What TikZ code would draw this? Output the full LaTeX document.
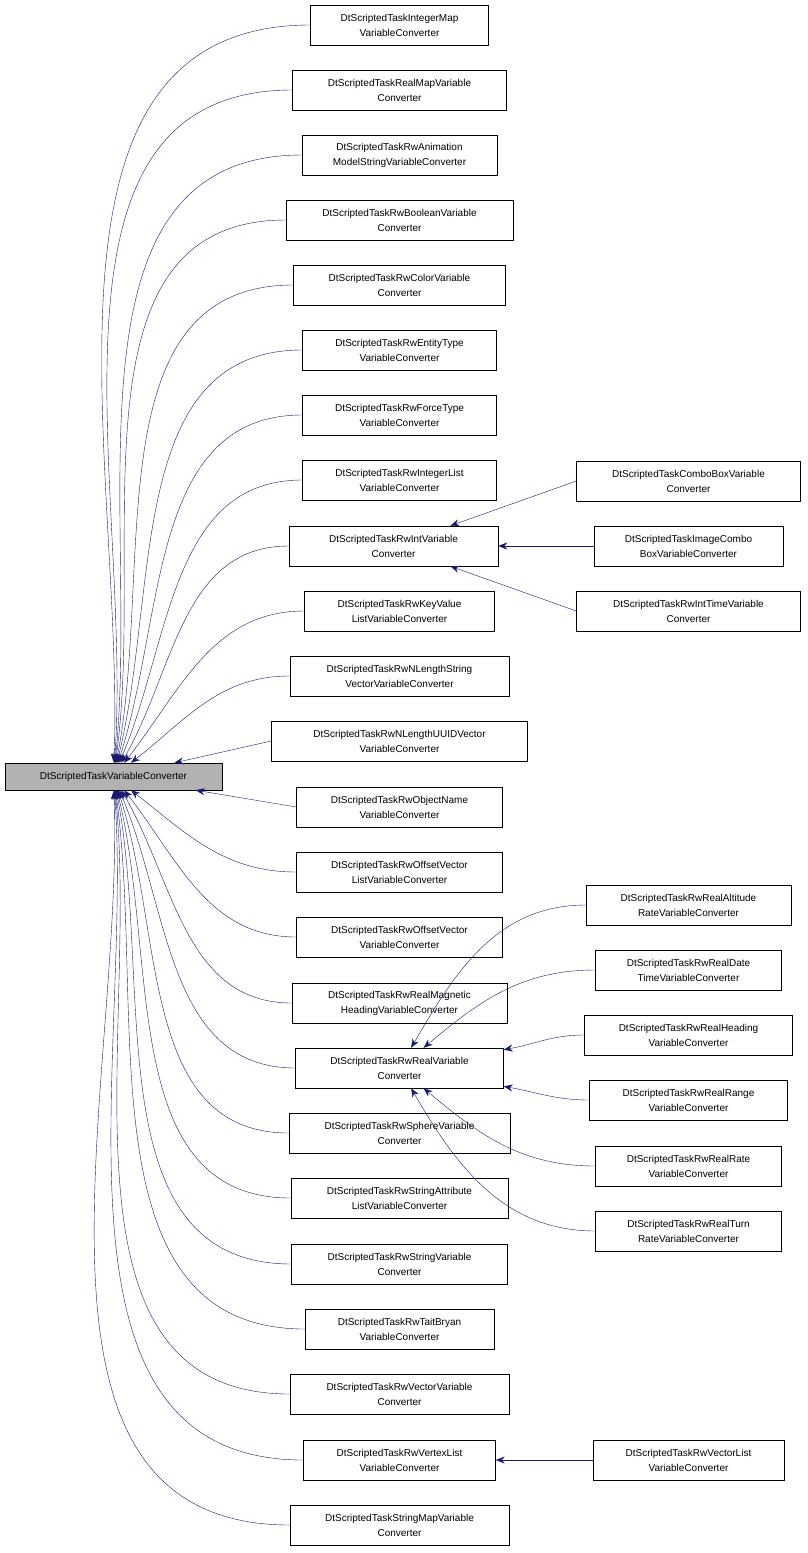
\documentclass[tikz,border=0pt]{standalone}
\usepackage{fontspec}
\setmainfont{Liberation Sans}
\usetikzlibrary{arrows.meta,positioning}
\definecolor{navyblue}{RGB}{25,25,112}
\tikzset{
	cls/.style={draw, fill=white, align=center, inner sep=0pt, minimum height=40pt, font=\fontsize{10}{15}\selectfont},
	link/.style={draw=navyblue, {Stealth[length=9pt,width=7pt]}-}
}
\begin{document}
\begin{tikzpicture}[x=1pt,y=-1pt]
	\useasboundingbox (0,0) rectangle (808,1553);
	\node[cls, fill=gray!60, minimum height=27pt, minimum width=217pt] (rootconv) at (113.5,776.5) {DtScriptedTaskVariableConverter};
	% middle column
	\foreach \n/\y/\w/\t in {
		c1/25/178/{DtScriptedTaskIntegerMap\\VariableConverter},
		c2/90/214/{DtScriptedTaskRealMapVariable\\Converter},
		c3/155/195/{DtScriptedTaskRwAnimation\\ModelStringVariableConverter},
		c4/220/227/{DtScriptedTaskRwBooleanVariable\\Converter},
		c5/285/212/{DtScriptedTaskRwColorVariable\\Converter},
		c6/350/194/{DtScriptedTaskRwEntityType\\VariableConverter},
		c7/415/194/{DtScriptedTaskRwForceType\\VariableConverter},
		c8/480/194/{DtScriptedTaskRwIntegerList\\VariableConverter},
		c10/611/190/{DtScriptedTaskRwKeyValue\\ListVariableConverter},
		c11/676/219/{DtScriptedTaskRwNLengthString\\VectorVariableConverter},
		c12/741/256/{DtScriptedTaskRwNLengthUUIDVector\\VariableConverter},
		c13/807/206/{DtScriptedTaskRwObjectName\\VariableConverter},
		c14/872/206/{DtScriptedTaskRwOffsetVector\\ListVariableConverter},
		c15/937/206/{DtScriptedTaskRwOffsetVector\\VariableConverter},
		c16/1003/215/{DtScriptedTaskRwRealMagnetic\\HeadingVariableConverter},
		c17/1068/208/{DtScriptedTaskRwRealVariable\\Converter},
		c18/1133/221/{DtScriptedTaskRwSphereVariable\\Converter},
		c19/1198/217/{DtScriptedTaskRwStringAttribute\\ListVariableConverter},
		c20/1264/216/{DtScriptedTaskRwStringVariable\\Converter},
		c21/1329/189/{DtScriptedTaskRwTaitBryan\\VariableConverter},
		c22/1394/219/{DtScriptedTaskRwVectorVariable\\Converter},
		c23/1460/192/{DtScriptedTaskRwVertexList\\VariableConverter},
		c24/1525/219/{DtScriptedTaskStringMapVariable\\Converter}}
		\node[cls, minimum width=\w pt] (\n) at (399.5,\y) {\t};
	\node[cls, minimum width=209pt] (c9) at (393.5,546) {DtScriptedTaskRwIntVariable\\Converter};
	% right column
	\foreach \n/\y/\w/\t in {
		r1/481/224/{DtScriptedTaskComboBoxVariable\\Converter},
		r2/546/189/{DtScriptedTaskImageCombo\\BoxVariableConverter},
		r3/611/224/{DtScriptedTaskRwIntTimeVariable\\Converter},
		r4/905/205/{DtScriptedTaskRwRealAltitude\\RateVariableConverter},
		r5/970/186/{DtScriptedTaskRwRealDate\\TimeVariableConverter},
		r6/1035/208/{DtScriptedTaskRwRealHeading\\VariableConverter},
		r7/1100/198/{DtScriptedTaskRwRealRange\\VariableConverter},
		r8/1166/186/{DtScriptedTaskRwRealRate\\VariableConverter},
		r9/1231/186/{DtScriptedTaskRwRealTurn\\RateVariableConverter},
		r10/1460/191/{DtScriptedTaskRwVectorList\\VariableConverter}}
		\node[cls, minimum width=\w pt] (\n) at (688.5,\y) {\t};
	% inheritance links
	\foreach \n/\o in {c1/88,c2/86,c3/84,c4/82,c5/79,c6/76,c7/72,c8/67,c9/60,c10/52,c11/38}
		\draw[link] (rootconv) to[out=\o,in=180] (\n.west);
	\foreach \n in {c12,c13}
		\draw[link] (rootconv) -- (\n.west);
	\foreach \n/\o in {c14/-38,c15/-52,c16/-60,c17/-67,c18/-72,c19/-76,c20/-79,c21/-82,c22/-84,c23/-86,c24/-88}
		\draw[link] (rootconv) to[out=\o,in=180] (\n.west);
	\foreach \n in {r1,r2,r3}
		\draw[link] (c9) -- (\n.west);
	\foreach \n/\o in {r4/60,r5/40,r6/10,r7/-10,r8/-40,r9/-60}
		\draw[link] (c17) to[out=\o,in=180] (\n.west);
	\draw[link] (c23) -- (r10);
\end{tikzpicture}
\end{document}
